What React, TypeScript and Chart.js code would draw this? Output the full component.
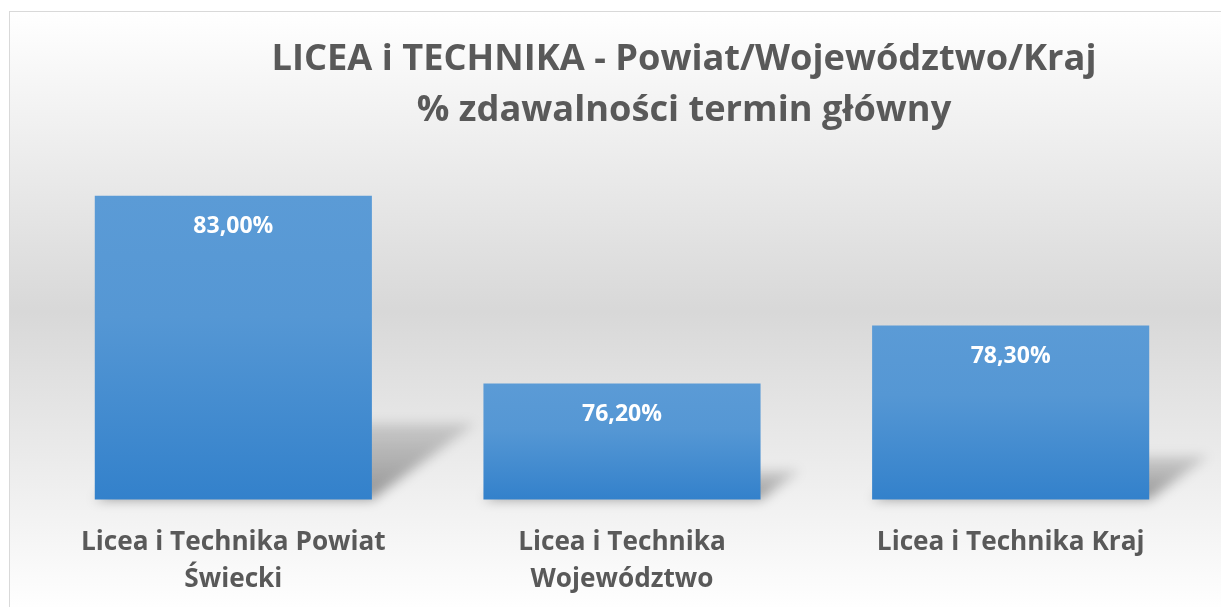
import React, { useEffect, useRef } from 'react';
import { Chart, registerables } from 'chart.js';

Chart.register(...registerables);

// ---- data ----
const categories: string[][] = [
  ['Licea i Technika Powiat', 'Świecki'],
  ['Licea i Technika', 'Województwo'],
  ['Licea i Technika Kraj'],
];
const values: number[] = [83.0, 76.2, 78.3];
const titleLines: string[] = ['LICEA i TECHNIKA - Powiat/Województwo/Kraj', '% zdawalności termin główny'];
const yMin = 72;
const yMax = 84;

const FAMILY = '"Open Sans", "Noto Sans", sans-serif';
const TEXT_COLOR = '#595959';

function fitSize(text: string, target: number): number {
  const c = document.createElement('canvas').getContext('2d')!;
  c.font = `bold 100px ${FAMILY}`;
  return (100 * target) / c.measureText(text).width;
}

const fmt = (v: number) => v.toFixed(2).replace('.', ',') + '%';

export default function App() {
  const ref = useRef<HTMLCanvasElement | null>(null);

  useEffect(() => {
    const canvas = ref.current;
    if (!canvas) return;

    const titleSize = fitSize(titleLines[0], 825);
    const tickSize = fitSize(categories[0][0], 305);
    const labelSize = fitSize(fmt(values[0]), 80);

    const shadowPlugin = {
      id: 'barShadow',
      beforeDatasetsDraw(chart: any) {
        const ctx = chart.ctx as CanvasRenderingContext2D;
        const meta = chart.getDatasetMeta(0);
        const bottom = chart.chartArea.bottom;
        ctx.save();
        ctx.filter = 'blur(6px)';
        meta.data.forEach((bar: any) => {
          const p = bar.getProps(['x', 'y', 'width'], true);
          const base = bottom;
          const h = base - p.y;
          const x0 = p.x - p.width / 2;
          const x1 = p.x + p.width / 2;
          const dx = h * 0.34;
          const dy = h * 0.25;
          const g = ctx.createLinearGradient(0, base, 0, base - dy);
          g.addColorStop(0, 'rgba(0,0,0,0.38)');
          g.addColorStop(1, 'rgba(0,0,0,0.13)');
          ctx.fillStyle = g;
          ctx.beginPath();
          ctx.moveTo(x0, base);
          ctx.lineTo(x1, base);
          ctx.lineTo(x1 + dx, base - dy);
          ctx.lineTo(x0 + dx, base - dy);
          ctx.closePath();
          ctx.fill();
        });
        ctx.restore();
      },
    };

    const textPlugin = {
      id: 'texts',
      afterDatasetsDraw(chart: any) {
        const ctx = chart.ctx as CanvasRenderingContext2D;
        ctx.save();
        ctx.fillStyle = TEXT_COLOR;
        ctx.textAlign = 'center';
        ctx.textBaseline = 'alphabetic';
        ctx.font = `bold ${titleSize}px ${FAMILY}`;
        ctx.fillText(titleLines[0], 674, 58);
        ctx.fillText(titleLines[1], 674, 108.7);
        const meta = chart.getDatasetMeta(0);
        ctx.fillStyle = '#ffffff';
        ctx.font = `bold ${labelSize}px ${FAMILY}`;
        meta.data.forEach((bar: any, i: number) => {
          const { x, y } = bar.getProps(['x', 'y'], true);
          ctx.fillText(fmt(values[i]), x, y + 37.5);
        });
        ctx.restore();
      },
    };

    const chart = new Chart(canvas, {
      type: 'bar',
      data: {
        labels: categories,
        datasets: [
          {
            data: values,
            borderWidth: 0,
            categoryPercentage: 1,
            barPercentage: 0.713,
            backgroundColor: (c: any) => {
              const ch = c.chart;
              const ca = ch.chartArea;
              if (!ca || c.raw == null) return '#4a8fd1';
              const top = ch.scales.y.getPixelForValue(c.raw);
              const g = ch.ctx.createLinearGradient(0, top, 0, ca.bottom);
              g.addColorStop(0, '#5b9bd6');
              g.addColorStop(0.4, '#5597d4');
              g.addColorStop(1, '#3381cb');
              return g;
            },
          },
        ],
      },
      options: {
        responsive: false,
        animation: false,
        events: [],
        layout: { padding: { top: 156, left: 29, right: 25, bottom: 0 } },
        plugins: {
          legend: { display: false },
          title: { display: false },
          tooltip: { enabled: false },
        },
        scales: {
          x: {
            grid: { display: false, drawTicks: false },
            border: { display: false },
            ticks: {
              color: TEXT_COLOR,
              font: { family: FAMILY, size: tickSize, weight: 'bold', lineHeight: 37 / tickSize },
              padding: 25,
              maxRotation: 0,
              autoSkip: false,
            },
            afterFit: (scale: any) => {
              scale.height = 112.5;
            },
          },
          y: {
            display: false,
            min: yMin,
            max: yMax,
          },
        },
      },
      plugins: [shadowPlugin, textPlugin],
    });

    return () => chart.destroy();
  }, []);

  return (
    <div
      style={{
        position: 'fixed',
        left: 9,
        top: 11,
        width: 1220,
        height: 600,
        border: '1px solid #d9d9d9',
        background: 'linear-gradient(to bottom, #ffffff 0%, #d8d8d8 50%, #ffffff 100%)',
      }}
    >
      <canvas ref={ref} width={1220} height={600} style={{ display: 'block' }} />
    </div>
  );
}
